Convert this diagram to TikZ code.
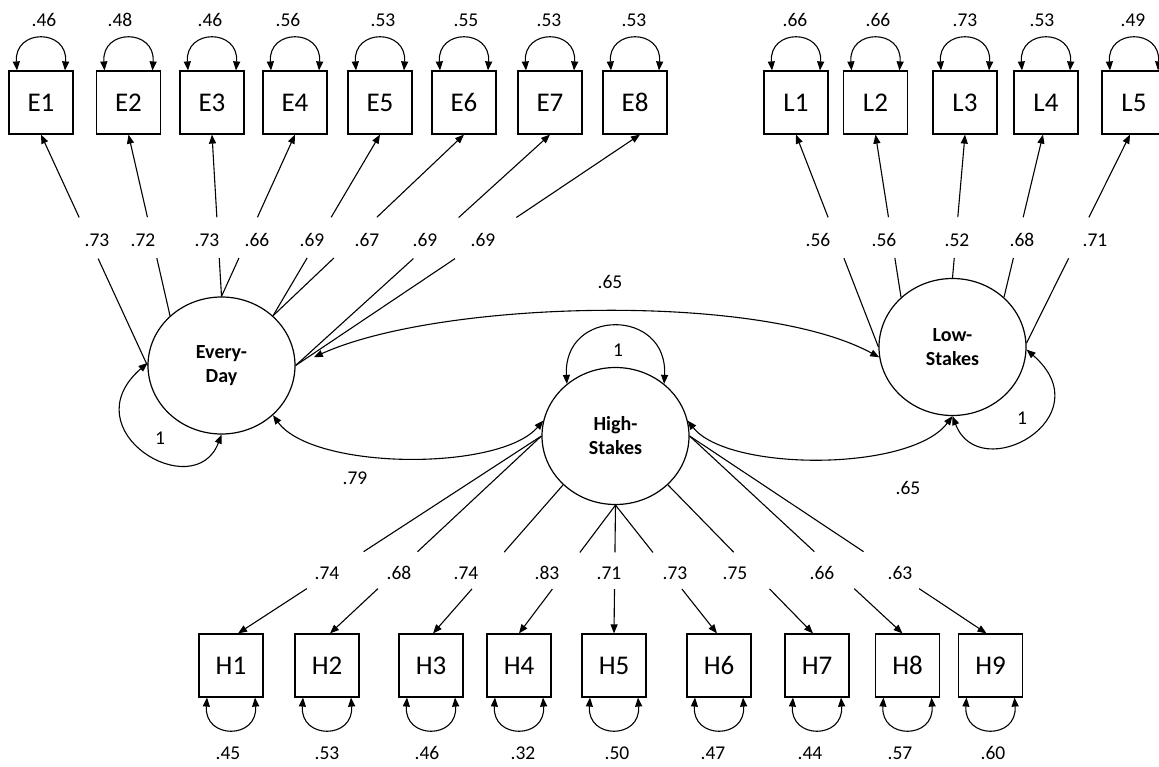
\documentclass[tikz,border=0pt]{standalone}
\usepackage{fontspec}
\setmainfont{Carlito}
\usetikzlibrary{arrows.meta,shapes.geometric,calc}
\newcommand\loadline[4]{\draw[load] (#1) -- ($(#1)!#3!(#2)$) ($(#1)!#4!(#2)$) -- (#2);}
\begin{document}
\begin{tikzpicture}[x=1pt,y=-1pt,
  box/.style={draw, line width=1.2pt, minimum width=64pt, minimum height=63pt, inner sep=0pt, font=\fontsize{27}{32}\selectfont},
  lat/.style={draw, ellipse, line width=1.2pt, minimum width=147pt, minimum height=137pt, inner sep=0pt, align=center, font=\bfseries\fontsize{20}{24}\selectfont},
  val/.style={font=\fontsize{19.5}{22}\selectfont, inner sep=1pt},
  load/.style={line width=1.1pt, -{Triangle[length=9pt,width=7pt]}},
  cov/.style={line width=1.1pt, {Triangle[length=9pt,width=7pt]}-{Triangle[length=9pt,width=7pt]}},
]
\useasboundingbox (0,0) rectangle (1159,766);
% observed boxes
\foreach \n/\x in {E1/41,E2/128.5,E3/212,E4/295,E5/380,E6/464,E7/550,E8/635,L1/796,L2/875.5,L3/965,L4/1046,L5/1134}
  \node[box] (\n) at (\x,102.5) {\n};
\foreach \n/\x in {H1/231,H2/327,H3/431,H4/519,H5/614,H6/719,H7/817,H8/907.5,H9/990.5}
  \node[box] (\n) at (\x,665.5) {\n};
% latent factors
\node[lat] (ED) at (221.5,365.5) {Every-\\Day};
\node[lat] (HS) at (615.5,436) {High-\\Stakes};
\node[lat] (LS) at (952.5,347) {Low-\\Stakes};
% residual variances
\foreach \n in {E1,E2,E3,E4,E5,E6,E7,E8,L1,L2,L3,L4,L5}
  \draw[cov] ([xshift=-24pt]\n.north) .. controls +(-3,-42) and +(3,-42) .. ([xshift=24pt]\n.north);
\foreach \n in {H1,H2,H3,H4,H5,H6,H7,H8,H9}
  \draw[cov] ([xshift=-24pt]\n.south) .. controls +(-3,42) and +(3,42) .. ([xshift=24pt]\n.south);
% loadings Every-Day
\loadline{ED.180}{E1.south}{0.463}{0.641}
\loadline{ED.136}{E2.south}{0.319}{0.544}
\loadline{ED.90}{E3.south}{0.237}{0.489}
\loadline{ED.90}{E4.south}{0.237}{0.489}
\loadline{ED.44}{E5.south}{0.319}{0.544}
\loadline{ED.44}{E6.south}{0.319}{0.544}
\loadline{ED.0}{E7.south}{0.463}{0.641}
\loadline{ED.0}{[xshift=5pt]E8.south}{0.463}{0.641}
% loadings Low-Stakes
\loadline{LS.180}{L1.south}{0.418}{0.610}
\loadline{LS.136}{L2.south}{0.242}{0.492}
\loadline{LS.90}{L3.south}{0.139}{0.424}
\loadline{LS.44}{[xshift=-3pt]L4.south}{0.242}{0.492}
\loadline{LS.3}{[xshift=-4pt]L5.south}{0.407}{0.603}
% loadings High-Stakes
\loadline{HS.180}{[xshift=7pt]H1.north}{0.586}{0.773}
\loadline{HS.180}{[xshift=3pt]H2.north}{0.586}{0.773}
\loadline{HS.223}{[xshift=2pt]H3.north}{0.453}{0.700}
\loadline{HS.270}{H4.north}{0.369}{0.654}
\loadline{HS.270}{H5.north}{0.369}{0.654}
\loadline{HS.270}{[xshift=-2pt]H6.north}{0.369}{0.654}
\loadline{HS.317}{[xshift=-4pt]H7.north}{0.453}{0.700}
\loadline{HS.0}{[xshift=-5pt]H8.north}{0.586}{0.773}
\loadline{HS.0}{[xshift=-4pt]H9.north}{0.586}{0.773}
% factor variances
\draw[cov] (ED.270) .. controls +(-27,71) and +(-78,68) .. (ED.178);
\draw[cov] (LS.270) .. controls +(27,71) and +(78,68) .. (LS.358);
\draw[cov] (HS.133) .. controls +(-4,-76) and +(4,-76) .. (HS.47);
% factor covariances
\draw[cov, shorten <=20pt] (ED.0) .. controls (440,300) and (760,292) .. (LS.188);
\draw[cov] (ED.316) .. controls +(40,55) and +(-44,51) .. (HS.168);
\draw[cov] (HS.12) .. controls +(40,51) and +(-42,56) .. (LS.270);
% labels: residual variances
\foreach \v/\x [count=\i] in {.46/44,.48/120,.46/210,.56/288,.53/383,.55/466,.53/549,.53/634,.66/795,.66/878,.73/965,.53/1042,.49/1133}
  \node[val] (rv\i) at (\x,20) {\v};
\foreach \v/\x [count=\i] in {.45/228,.53/327,.46/427,.32/523,.50/617,.47/713,.44/810,.57/900,.60/993}
  \node[val] (hv\i) at (\x,753) {\v};
% labels: loadings
\foreach \v/\x [count=\i] in {.73/97,.72/143,.73/207,.66/257,.69/312,.67/367,.69/425,.69/483,.56/818,.56/884,.52/957,.68/1022,.71/1095}
  \node[val] (ld\i) at (\x,240) {\v};
\foreach \v/\x [count=\i] in {.74/327,.68/399,.74/466,.83/547,.71/609,.73/675,.75/735,.66/822,.63/900}
  \node[val] (hl\i) at (\x,573) {\v};
% labels: factor variances and covariances
\node[val] (v1) at (160,438) {1};
\node[val] (v2) at (1022,418) {1};
\node[val] (v3) at (618,350) {1};
\node[val] (c1) at (610,282) {.65};
\node[val] (c2) at (355,478) {.79};
\node[val] (c3) at (908,488) {.65};
\end{tikzpicture}
\end{document}
